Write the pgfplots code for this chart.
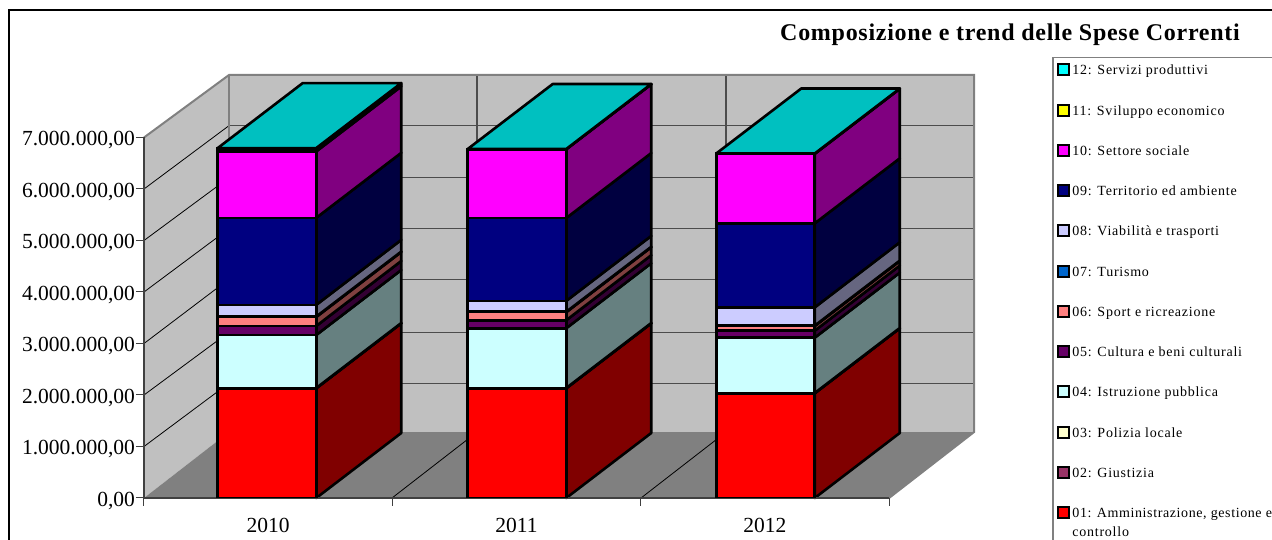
\documentclass[border=0pt]{standalone}
\usepackage{pgfplots}
\usepackage{pgfplotstable}
\usepackage{fontspec}
\setmainfont{Liberation Serif}
\newfontfamily\legfont[LetterSpace=5.4]{Liberation Serif}
\newfontfamily\legfontb[LetterSpace=4.3]{Liberation Serif}
\newfontfamily\titfont[LetterSpace=3.0]{Liberation Serif}
\pgfplotsset{compat=1.18}
\definecolor{front01}{HTML}{FF0000}\definecolor{side01}{HTML}{800000}
\definecolor{front02}{HTML}{993366}\definecolor{side02}{HTML}{4D1A33}
\definecolor{front03}{HTML}{FFFFCC}\definecolor{side03}{HTML}{808066}
\definecolor{front04}{HTML}{CCFFFF}\definecolor{side04}{HTML}{668080}
\definecolor{front05}{HTML}{660066}\definecolor{side05}{HTML}{330033}
\definecolor{front06}{HTML}{FF8080}\definecolor{side06}{HTML}{804040}
\definecolor{front07}{HTML}{0066CC}\definecolor{side07}{HTML}{003366}
\definecolor{front08}{HTML}{CCCCFF}\definecolor{side08}{HTML}{666680}
\definecolor{front09}{HTML}{000080}\definecolor{side09}{HTML}{000040}
\definecolor{front10}{HTML}{FF00FF}\definecolor{side10}{HTML}{800080}
\definecolor{front11}{HTML}{FFFF00}\definecolor{side11}{HTML}{808000}
\definecolor{front12}{HTML}{00FFFF}\definecolor{side12}{HTML}{008080}
\definecolor{topcyan}{HTML}{00C0C0}
\definecolor{wall}{HTML}{C0C0C0}
\definecolor{floorc}{HTML}{808080}
% values in millions of euro
\pgfplotstableread{
pos    s01   s02   s03   s04   s05   s06   s07   s08   s09   s10   s11   s12
0.4953 2.130 0.003 0.003 1.029 0.175 0.175 0.008 0.227 1.690 1.290 0.030 0.035
1.5020 2.130 0.003 0.003 1.160 0.156 0.156 0.008 0.211 1.609 1.335 0.003 0.003
2.5027 2.033 0.003 0.003 1.074 0.136 0.090 0.008 0.355 1.631 1.350 0.003 0.003
}\spese
\def\dep{1.2621}
\newcommand\barfaces[2]{%
  \gdef\cum{0}%
  \pgfplotsforeachungrouped \s in {01,02,03,04,05,06,07,08,09,10,11,12}{%
    \pgfplotstablegetelem{#1}{s\s}\of\spese
    \pgfmathsetmacro\lo{\cum}%
    \pgfmathsetmacro\hi{\cum+\pgfplotsretval}%
    \pgfmathsetmacro\xb{#2+85}%
    \pgfmathsetmacro\lob{\lo+\dep}%
    \pgfmathsetmacro\hib{\hi+\dep}%
    \edef\tmp{\noexpand\addplot[fill=side\s,draw=black,line width=2.6pt,line join=round] coordinates {(#2,\lo)(\xb,\lob)(\xb,\hib)(#2,\hi)} --cycle;}%
    \tmp
    \global\let\cum\hi
  }%
  \pgfmathsetmacro\xl{#2-98.5}%
  \pgfmathsetmacro\xlb{#2-98.5+85}%
  \pgfmathsetmacro\xb{#2+85}%
  \pgfmathsetmacro\hib{\cum+\dep}%
  \edef\tmp{\noexpand\addplot[fill=topcyan,draw=black,line width=2.6pt,line join=round] coordinates {(\xl,\cum)(#2,\cum)(\xb,\hib)(\xlb,\hib)} --cycle;}%
  \tmp
}
\pgfplotsset{swatch/.style={legend image code/.code={%
  \draw[##1,draw=black,line width=2.2pt] (1pt,-3.5pt) rectangle (12pt,7.5pt);}}}
\begin{document}
\begin{tikzpicture}
\useasboundingbox (0,0) rectangle (1272pt,540pt);
\clip (0,0) rectangle (1272pt,540pt);
\begin{axis}[at={(0,0)},anchor=south west,scale only axis,width=1272pt,height=540pt,
  hide axis,xmin=0,xmax=1272,ymin=-0.8155,ymax=9.6699]
% frame and legend box
\addplot[black,line width=1.2pt] coordinates {(9,-0.8155)(9,9.476)(1272,9.476)};
\addplot[floorc,line width=1.5pt] coordinates {(1053,-0.8155)(1053,8.553)(1272,8.553)};
% walls and floor
\addplot[fill=wall,draw=none] coordinates {(144,7)(229,8.214)(229,1.28)(144,0)} --cycle;
\addplot[fill=wall,draw=none] coordinates {(229,8.214)(974,8.214)(974,1.28)(229,1.28)} --cycle;
\addplot[fill=floorc,draw=none] coordinates {(144,0)(889,0)(974,1.28)(229,1.28)} --cycle;
% grid lines on the left wall
\addplot[black,line width=0.8pt] coordinates {(144,6)(229,7.23)};
\addplot[black,line width=0.8pt] coordinates {(144,5)(229,6.22)};
\addplot[black,line width=0.8pt] coordinates {(144,4)(229,5.23)};
\addplot[black,line width=0.8pt] coordinates {(144,3)(229,4.25)};
\addplot[black,line width=0.8pt] coordinates {(144,2)(229,3.22)};
\addplot[black,line width=0.8pt] coordinates {(144,1)(229,2.23)};
% grid lines on the back wall
\addplot[black!70,line width=1.2pt] coordinates {(229,7.23)(974,7.23)};
\addplot[black!70,line width=1.2pt] coordinates {(229,6.22)(974,6.22)};
\addplot[black!70,line width=1.2pt] coordinates {(229,5.23)(974,5.23)};
\addplot[black!70,line width=1.2pt] coordinates {(229,4.25)(974,4.25)};
\addplot[black!70,line width=1.2pt] coordinates {(229,3.22)(974,3.22)};
\addplot[black!70,line width=1.2pt] coordinates {(229,2.23)(974,2.23)};
\addplot[black!70,line width=1.2pt] coordinates {(477,1.28)(477,8.214)};
\addplot[black!70,line width=1.2pt] coordinates {(726,1.28)(726,8.214)};
% grid lines on the floor
\addplot[black,line width=0.8pt] coordinates {(392,0)(477,1.28)};
\addplot[black,line width=0.8pt] coordinates {(641,0)(726,1.28)};
% wall outline
\addplot[floorc,line width=2pt] coordinates {(144,7)(229,8.214)(974,8.214)(974,1.28)(889,0)};
\addplot[floorc,line width=2pt] coordinates {(229,8.214)(229,1.28)};
% side and top faces of the bars
\barfaces{0}{316.25}
\barfaces{1}{566.25}
\barfaces{2}{814.75}
\node[font=\fontsize{24}{26}\selectfont\titfont\bfseries,anchor=center] at (axis cs:1010,8.99) {Composizione e trend delle Spese Correnti};
\end{axis}
\begin{axis}[at={(144pt,42pt)},anchor=south west,scale only axis,width=745pt,height=360.5pt,
  xmin=0,xmax=3,ymin=0,ymax=7,
  ybar stacked,bar width=0.3966,
  axis lines=left,axis line style={-,black!75,line width=1.2pt},
  tick align=outside,
  tick style={black!75,line width=1pt},
  major tick length=8pt,
  xtick={0,1,2,3},xticklabels={},
  extra x ticks={0.5,1.5,2.5},extra x tick labels={2010,2011,2012},
  extra x tick style={major tick length=0pt,tick label style={yshift=-17pt}},
  ytick={0,1,2,3,4,5,6,7},
  yticklabels={{0,00},{1.000.000,00},{2.000.000,00},{3.000.000,00},{4.000.000,00},{5.000.000,00},{6.000.000,00},{7.000.000,00}},
  tick label style={font=\fontsize{21.5}{23}\selectfont},
  y tick label style={xshift=2.5pt,yshift=-3pt},
  reverse legend,
  legend cell align=left,
  legend style={at={(1.2255,1.2065)},anchor=north west,draw=none,fill=none,inner sep=0pt,
    font=\fontsize{14}{15}\selectfont\legfont,row sep=25.65pt,
    nodes={inner sep=0pt,text height=9pt,text depth=3pt},
    /tikz/column sep=2pt}]
\addplot[swatch,fill=front01,draw=black,line width=2.6pt] table[x=pos,y=s01]{\spese};
\addlegendentry{\rlap{\raisebox{-18.5pt}{controllo}}{\legfontb 01: Amministrazione, gestione e}}
\addplot[swatch,fill=front02,draw=black,line width=2.6pt] table[x=pos,y=s02]{\spese};
\addlegendentry{02: Giustizia}
\addplot[swatch,fill=front03,draw=black,line width=2.6pt] table[x=pos,y=s03]{\spese};
\addlegendentry{03: Polizia locale}
\addplot[swatch,fill=front04,draw=black,line width=2.6pt] table[x=pos,y=s04]{\spese};
\addlegendentry{04: Istruzione pubblica}
\addplot[swatch,fill=front05,draw=black,line width=2.6pt] table[x=pos,y=s05]{\spese};
\addlegendentry{05: Cultura e beni culturali}
\addplot[swatch,fill=front06,draw=black,line width=2.6pt] table[x=pos,y=s06]{\spese};
\addlegendentry{06: Sport e ricreazione}
\addplot[swatch,fill=front07,draw=black,line width=2.6pt] table[x=pos,y=s07]{\spese};
\addlegendentry{07: Turismo}
\addplot[swatch,fill=front08,draw=black,line width=2.6pt] table[x=pos,y=s08]{\spese};
\addlegendentry{08: Viabilità e trasporti}
\addplot[swatch,fill=front09,draw=black,line width=2.6pt] table[x=pos,y=s09]{\spese};
\addlegendentry{09: Territorio ed ambiente}
\addplot[swatch,fill=front10,draw=black,line width=2.6pt] table[x=pos,y=s10]{\spese};
\addlegendentry{10: Settore sociale}
\addplot[swatch,fill=front11,draw=black,line width=2.6pt] table[x=pos,y=s11]{\spese};
\addlegendentry{11: Sviluppo economico}
\addplot[swatch,fill=front12,draw=black,line width=2.6pt] table[x=pos,y=s12]{\spese};
\addlegendentry{12: Servizi produttivi}
\end{axis}
\end{tikzpicture}
\end{document}
